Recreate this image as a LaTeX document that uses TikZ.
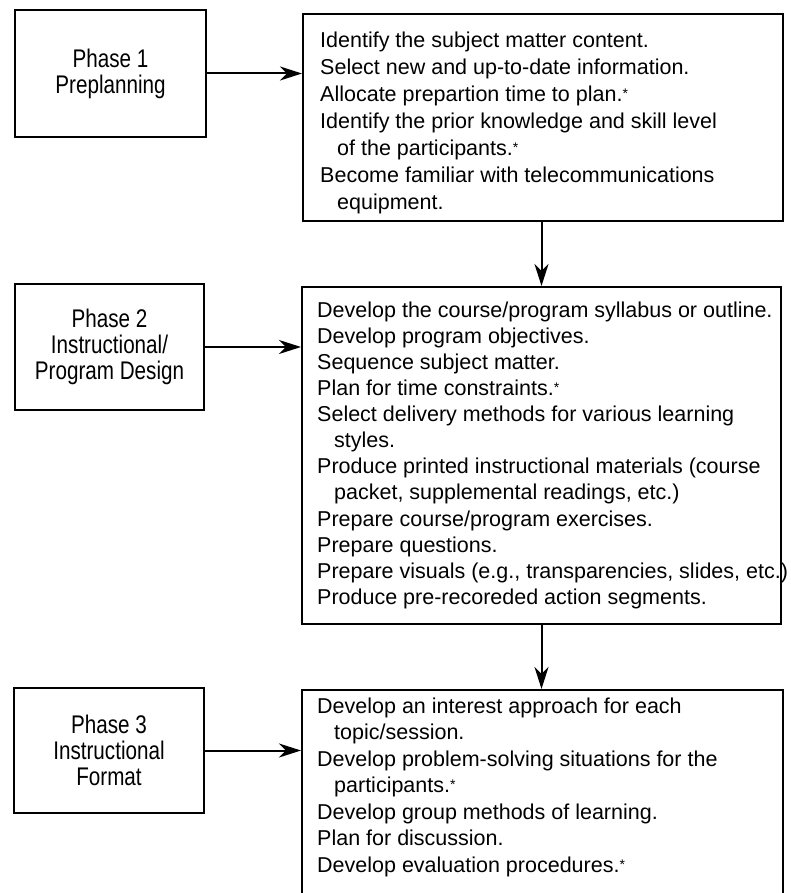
\documentclass[tikz,border=0pt]{standalone}
\usepackage{fontspec}
\setmainfont{Liberation Sans}
\newfontfamily\narrowfont[FakeStretch=0.81]{Liberation Sans}
\usetikzlibrary{arrows.meta}
\newcommand\mystar{{\fontsize{14}{14}\selectfont\raisebox{3pt}{*}}}
\begin{document}
\begin{tikzpicture}[x=1pt,y=-1pt,
  phasebox/.style={draw, line width=2pt, inner sep=0pt, align=center,
    font=\narrowfont\fontsize{25.5}{26}\selectfont},
  listbox/.style={draw, line width=2pt, anchor=north west, inner sep=0pt},
  listtext/.style={anchor=north west, inner sep=0pt, align=left},
  arr/.style={line width=2pt, -{Stealth[length=22pt,width=14pt,inset=7pt]}}]
\useasboundingbox (0,0) rectangle (790,893);
\clip (0,0) rectangle (790,893);

% phase boxes
\node[phasebox, minimum width=191pt, minimum height=127pt] (p1) at (110.5,73.5) {Phase 1\\Preplanning};
\node[phasebox, minimum width=189pt, minimum height=126pt] (p2) at (109.5,347) {Phase 2\\Instructional/\\Program Design};
\node[phasebox, minimum width=190pt, minimum height=125pt] (p3) at (109,750.5) {Phase 3\\Instructional\\Format};

% list boxes
\node[listbox, minimum width=480pt, minimum height=207pt] (b1) at (302,13) {};
\node[listbox, minimum width=479pt, minimum height=337pt] (b2) at (301,286) {};
\node[listbox, minimum width=481pt, minimum height=240pt] (b3) at (301,689) {};

% list texts
\node[listtext, font=\fontsize{21.5}{27}\selectfont] (t1) at (320,31.5) {Identify the subject matter content.\\
Select new and up-to-date information.\\
Allocate prepartion time to plan.\mystar\\
Identify the prior knowledge and skill level\\
\hspace*{17pt}of the participants.\mystar\\
Become familiar with telecommunications\\
\hspace*{17pt}equipment.};

\node[listtext, font=\fontsize{21.5}{26.1}\selectfont] (t2) at (317,301.5) {Develop the course/program syllabus or outline.\\
Develop program objectives.\\
Sequence subject matter.\\
Plan for time constraints.\mystar\\
Select delivery methods for various learning\\
\hspace*{17pt}styles.\\
Produce printed instructional materials (course\\
\hspace*{17pt}packet, supplemental readings, etc.)\\
Prepare course/program exercises.\\
Prepare questions.\\
Prepare visuals (e.g., transparencies, slides, etc.)\\
Produce pre-recoreded action segments.};

\node[listtext, font=\fontsize{21.5}{26.5}\selectfont] (t3) at (317,697.5) {Develop an interest approach for each\\
\hspace*{17pt}topic/session.\\
Develop problem-solving situations for the\\
\hspace*{17pt}participants.\mystar\\
Develop group methods of learning.\\
Plan for discussion.\\
Develop evaluation procedures.\mystar};

% connectors
\draw[arr] (p1.east) -- (p1.east -| b1.west);
\draw[arr] (p2.east) -- (p2.east -| b2.west);
\draw[arr] (p3.east) -- (p3.east -| b3.west);
\draw[arr] (b1.south -| b2.north) -- (b2.north);
\draw[arr] (b2.south) -- (b3.north -| b2.south);
\end{tikzpicture}
\end{document}
